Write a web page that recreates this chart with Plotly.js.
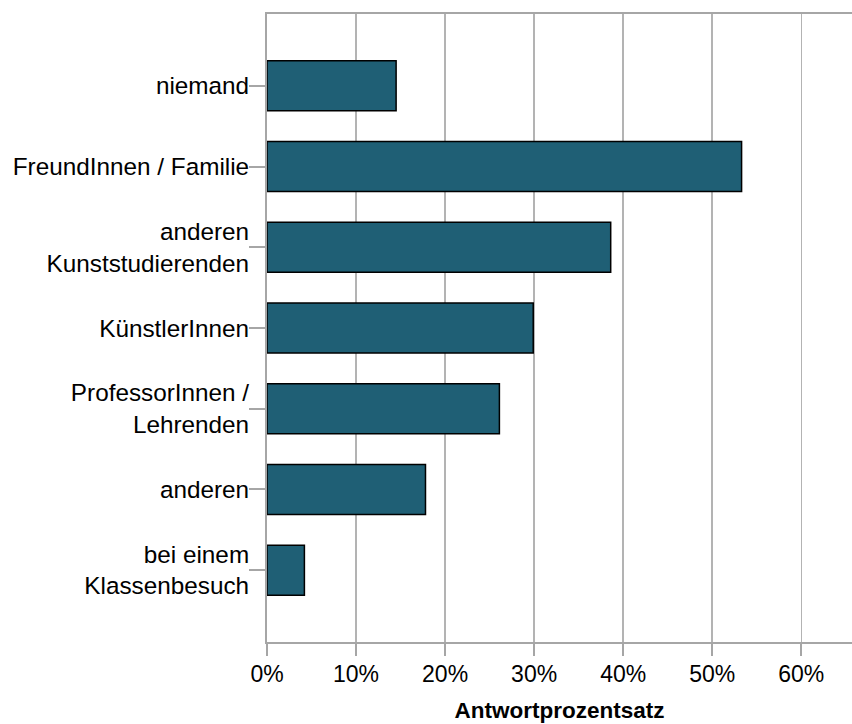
<!DOCTYPE html>
<html>
<head>
<meta charset="utf-8">
<script src="https://cdn.plot.ly/plotly-3.0.1.min.js"></script>
<style>
  html, body { margin: 0; padding: 0; background: #ffffff; }
  #chart { width: 852px; height: 724px; }
</style>
</head>
<body>
<div id="chart"></div>
<script>
const categories = [
  "niemand",
  "FreundInnen / Familie",
  "anderen<br>Kunststudierenden",
  "KünstlerInnen",
  "ProfessorInnen /<br>Lehrenden",
  "anderen",
  "bei einem<br>Klassenbesuch"
];
const values = [14.5, 53.3, 38.6, 29.9, 26.1, 17.8, 4.2];
const xTickValues = [0, 10, 20, 30, 40, 50, 60];
const xTickLabels = ["0%", "10%", "20%", "30%", "40%", "50%", "60%"];

const fontFamily = "Liberation Sans, Arial, sans-serif";

const trace = {
  type: "bar",
  orientation: "h",
  x: values,
  y: categories,
  width: 0.62,
  marker: { color: "#1f5f75", line: { color: "#000000", width: 1.5 } },
  hoverinfo: "x+y"
};

const layout = {
  width: 852,
  height: 724,
  margin: { l: 267, r: 0, t: 14, b: 82, pad: 0 },
  paper_bgcolor: "#ffffff",
  plot_bgcolor: "#ffffff",
  showlegend: false,
  font: { family: fontFamily, size: 23, color: "#000000" },
  xaxis: {
    range: [0, 65.7],
    tickvals: xTickValues,
    ticktext: xTickLabels,
    showgrid: true,
    gridcolor: "#b3b3b3",
    gridwidth: 1.5,
    zeroline: false,
    showline: true,
    linecolor: "#a6a6a6",
    linewidth: 2,
    mirror: true,
    ticks: "outside",
    ticklen: 12,
    tickwidth: 2,
    tickcolor: "#a6a6a6",
    ticklabelstandoff: -2,
    tickfont: { family: fontFamily, size: 23, color: "#000000" },
    title: {
      text: "<b>Antwortprozentsatz</b>",
      font: { family: fontFamily, size: 22.5, color: "#000000" },
      standoff: 17
    },
    fixedrange: true
  },
  yaxis: {
    type: "category",
    categoryorder: "array",
    categoryarray: categories,
    range: [6.89, -0.89],
    showgrid: false,
    zeroline: false,
    showline: true,
    linecolor: "#a6a6a6",
    linewidth: 2,
    ticks: "outside",
    ticklen: 16,
    tickwidth: 2,
    tickcolor: "#a6a6a6",
    ticklabelstandoff: -5,
    tickfont: { family: fontFamily, size: 24.3, color: "#000000" },
    fixedrange: true
  }
};

Plotly.newPlot("chart", [trace], layout, { displayModeBar: false, staticPlot: true });
</script>
</body>
</html>
